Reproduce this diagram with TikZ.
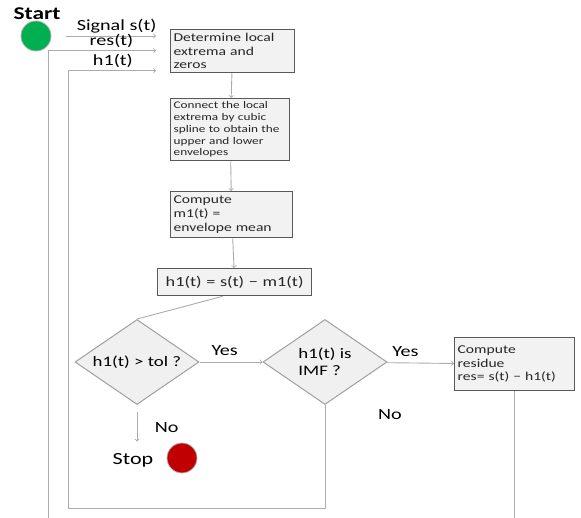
\documentclass[tikz,border=0pt]{standalone}
\usepackage{fontspec}
\setmainfont[FakeStretch=1.3]{Carlito}
\usetikzlibrary{shapes.geometric}
\definecolor{startgreen}{RGB}{0,176,80}
\definecolor{stopred}{RGB}{192,0,0}
\begin{document}
\begin{tikzpicture}[x=1pt, y=-1pt,
    box/.style = {rectangle, anchor=north west,
        draw=gray!70!black, fill=gray!10, line width=1.3pt,
        align=left, inner sep=3pt, text=black!85,
        font=\fontsize{12}{13.6}\selectfont},
    decision/.style = {diamond, aspect=1.46,
        minimum width=124pt, minimum height=85pt, inner sep=0pt,
        draw=gray!75, fill=gray!12, line width=1pt,
        align=left, font=\fontsize{14.5}{17}\selectfont},
    dot/.style = {circle, minimum size=30pt, inner sep=0pt,
        draw=gray!60, line width=0.8pt},
    link/.style = {draw=gray!65, line width=0.9pt},
    lbl/.style = {font=\fontsize{15.5}{17}\selectfont}]

\useasboundingbox (0,0) rectangle (581,518);

% Start
\node[font=\fontsize{18}{20}\selectfont\bfseries] (starttxt) at (37,14) {Start};
\node[dot, fill=startgreen] (start) at (36,36) {};

% Steps
\node[box, text width=118pt, minimum height=43pt] (det) at (170,29)
    {Determine local\\ extrema and\\ zeros};
\node[box, text width=113pt, minimum height=62pt,
    font=\fontsize{10.2}{11.7}\selectfont] (conn) at (170,98)
    {Connect the local\\ extrema by cubic\\ spline to obtain the\\ upper and lower\\ envelopes};
\node[box, text width=116pt, minimum height=46pt] (mean) at (170,191)
    {Compute\\ m1(t) =\\ envelope mean};
\node[box, text width=148pt, minimum height=27pt, align=center,
    font=\fontsize{14}{16}\selectfont] (hone) at (157,268)
    {h1(t) = s(t) − m1(t)};
\node[box, text width=114pt, minimum height=53pt] (resid) at (454,337)
    {Compute\\ residue\\ res= s(t) − h1(t)};

% Decisions
\node[decision] (tol) at (137,362) {h1(t) > tol ?};
\node[decision] (imf) at (325,362) {h1(t) is\\ IMF ?};

% Stop
\node[font=\fontsize{17}{19}\selectfont] (stop) at (133,460) {Stop};
\node[dot, fill=stopred] (stopc) at (182,458) {};

% Loop corners
\coordinate (resbot) at (48,518);
\coordinate (loopc) at (68,508);

% Inputs
\draw[link, ->, shorten <=15pt, shorten >=14pt] (start.east) -- (start.east -| det.west)
    node[lbl, pos=0.55, above=-1pt] {Signal s(t)};
\draw[link, ->, shorten >=14pt] (resbot) |- ([yshift=0.5pt]det.west)
    node[lbl, pos=0.76, above=-1pt] {res(t)};
\draw[link, ->, shorten >=14pt] (imf.south) |- (loopc) |- ([yshift=-19.5pt]det.west)
    node[lbl, pos=0.72, above=-1pt] {h1(t)};

% Main chain
\draw[link, ->] (det) -- (conn);
\draw[link, ->] (conn) -- (mean);
\draw[link, ->] (mean) -- (hone);
\draw[link] ([xshift=-12pt]hone.south) -- (tol.north);

% Branches
\draw[link, ->] (tol) -- (imf) node[lbl, pos=0.4, above=3pt] {Yes};
\draw[link, ->] (imf) -- (resid) node[lbl, pos=0.28, above=3pt] {Yes};
\node[lbl] (noimf) at (390,415) {No};
\draw[link, ->, shorten <=7pt, shorten >=8pt] (tol.south) -- (tol.south |- stop.north)
    node[lbl, midway, right=14pt] {No};
\draw[link] (resid.south) -- (resid.south |- resbot);

\end{tikzpicture}
\end{document}
